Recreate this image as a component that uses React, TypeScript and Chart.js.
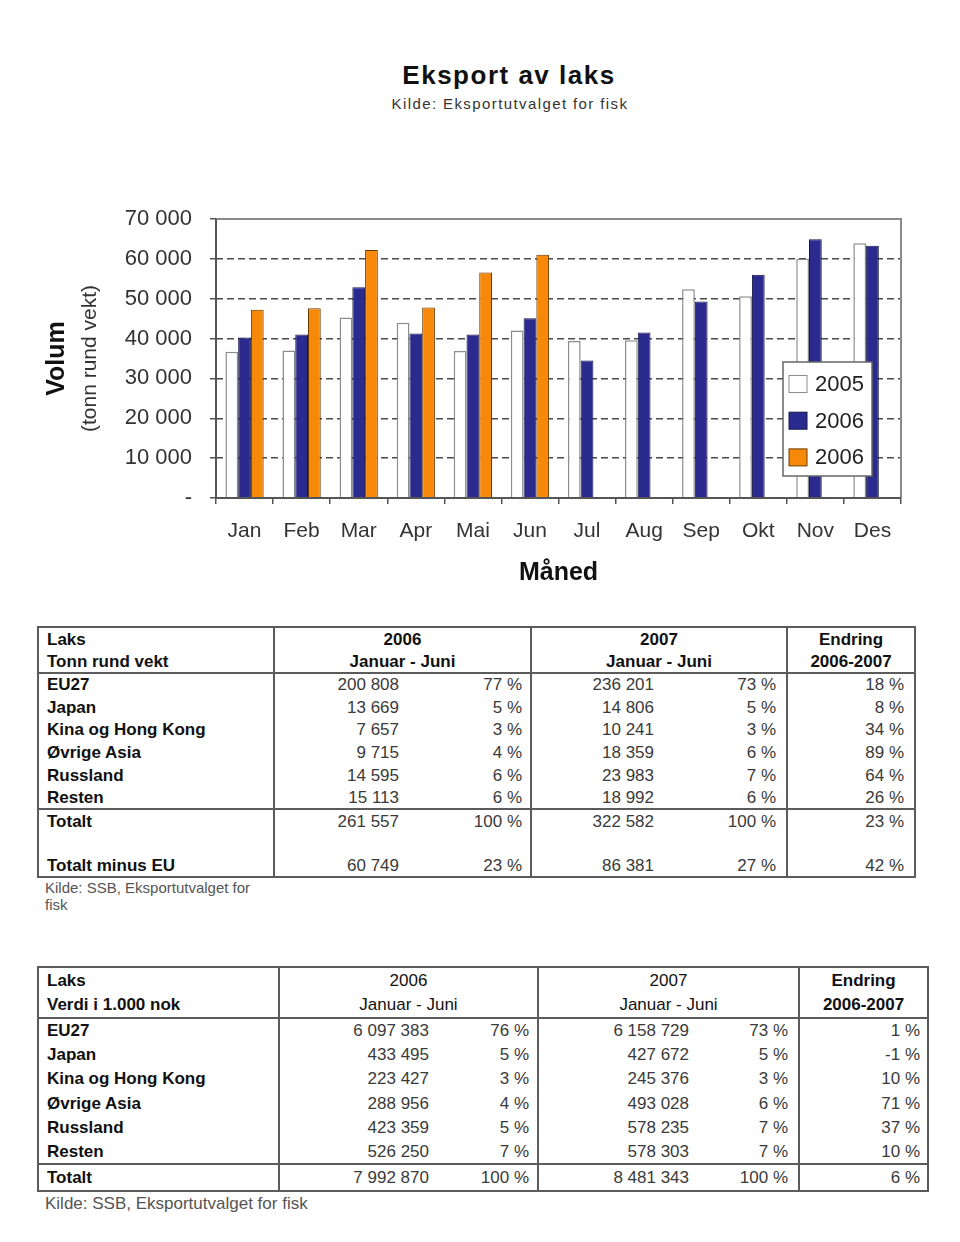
import React, { useEffect, useRef } from "react";
import { Chart, registerables } from "chart.js";

Chart.register(...registerables);

const FONT = '"Liberation Sans", Arial, Helvetica, sans-serif';

// ---- Chart data ----
const months = ["Jan", "Feb", "Mar", "Apr", "Mai", "Jun", "Jul", "Aug", "Sep", "Okt", "Nov", "Des"];
const seriesLabels = ["2005", "2006", "2006"];
const volume2005 = [36700, 37000, 45300, 44000, 36900, 42000, 39400, 39600, 52400, 50600, 60000, 63900];
const volume2006 = [40300, 41000, 52900, 41300, 41000, 45100, 34500, 41500, 49300, 56000, 64900, 63300];
const volume2007 = [47200, 47600, 62200, 47800, 56600, 61000, null, null, null, null, null, null];
const yTicks = [0, 10000, 20000, 30000, 40000, 50000, 60000, 70000];

// ---- Table 1: tonn rund vekt ----
const regions = ["EU27", "Japan", "Kina og Hong Kong", "Øvrige Asia", "Russland", "Resten"];
const tonn2006 = [200808, 13669, 7657, 9715, 14595, 15113];
const tonnPct2006 = [77, 5, 3, 4, 6, 6];
const tonn2007 = [236201, 14806, 10241, 18359, 23983, 18992];
const tonnPct2007 = [73, 5, 3, 6, 7, 6];
const tonnChange = [18, 8, 34, 89, 64, 26];
const tonnTotal = [261557, 100, 322582, 100, 23];
const tonnTotalMinusEU = [60749, 23, 86381, 27, 42];

// ---- Table 2: verdi i 1.000 nok ----
const verdi2006 = [6097383, 433495, 223427, 288956, 423359, 526250];
const verdiPct2006 = [76, 5, 3, 4, 5, 7];
const verdi2007 = [6158729, 427672, 245376, 493028, 578235, 578303];
const verdiPct2007 = [73, 5, 3, 6, 7, 7];
const verdiChange = [1, -1, 10, 71, 37, 10];
const verdiTotal = [7992870, 100, 8481343, 100, 6];

const fmt = (n: number) => String(n).replace(/\B(?=(\d{3})+(?!\d))/g, " ");
const pct = (n: number) => `${n} %`;

const frame = {
  id: "frame",
  afterDatasetsDraw(chart: any) {
    const { ctx, chartArea: a } = chart;
    ctx.save();
    ctx.lineWidth = 2;
    ctx.strokeStyle = "#8a8a8a";
    ctx.beginPath();
    ctx.moveTo(a.left, a.top);
    ctx.lineTo(a.right, a.top);
    ctx.lineTo(a.right, a.bottom);
    ctx.stroke();
    ctx.strokeStyle = "#555";
    ctx.beginPath();
    ctx.moveTo(a.left, a.top);
    ctx.lineTo(a.left, a.bottom);
    ctx.lineTo(a.right, a.bottom);
    ctx.stroke();
    ctx.restore();
  },
};

const axisTitles = {
  id: "axisTitles",
  afterDraw(chart: any) {
    const { ctx, chartArea: a } = chart;
    const cy = (a.top + a.bottom) / 2;
    ctx.save();
    ctx.fillStyle = "#111";
    ctx.textAlign = "center";
    ctx.textBaseline = "middle";
    ctx.font = `bold 25px ${FONT}`;
    ctx.fillText("Måned", (a.left + a.right) / 2, a.bottom + 75);
    ctx.save();
    ctx.translate(57, cy);
    ctx.rotate(-Math.PI / 2);
    ctx.fillText("Volum", 0, 0);
    ctx.restore();
    ctx.save();
    ctx.translate(90, cy);
    ctx.rotate(-Math.PI / 2);
    ctx.fillStyle = "#333";
    ctx.font = `21px ${FONT}`;
    ctx.fillText("(tonn rund vekt)", 0, 0);
    ctx.restore();
    ctx.restore();
  },
};

const legendBox = {
  id: "legendBox",
  afterDraw(chart: any) {
    const { ctx, chartArea: a } = chart;
    const left = a.right - 118;
    const top = a.top + 143;
    const w = 89;
    const h = 114;
    ctx.save();
    ctx.fillStyle = "#fff";
    ctx.fillRect(left, top, w, h);
    ctx.strokeStyle = "#666";
    ctx.lineWidth = 1.5;
    ctx.strokeRect(left, top, w, h);
    ctx.font = `22px ${FONT}`;
    ctx.textBaseline = "middle";
    ctx.textAlign = "left";
    chart.data.datasets.forEach((ds: any, i: number) => {
      const cy = top + 22 + i * 36.7;
      ctx.fillStyle = ds.backgroundColor;
      ctx.fillRect(left + 6, cy - 8.5, 18, 17);
      ctx.strokeStyle = ds.borderColor;
      ctx.lineWidth = 1;
      ctx.strokeRect(left + 6, cy - 8.5, 18, 17);
      ctx.fillStyle = "#222";
      ctx.fillText(ds.label, left + 32, cy + 1);
    });
    ctx.restore();
  },
};

function BarChart() {
  const ref = useRef<HTMLCanvasElement | null>(null);
  useEffect(() => {
    if (!ref.current) return;
    const chart = new Chart(ref.current, {
      type: "bar",
      data: {
        labels: months,
        datasets: [
          { label: seriesLabels[0], data: volume2005, backgroundColor: "#ffffff", borderColor: "#8c8c8c", borderWidth: 1.5 },
          { label: seriesLabels[1], data: volume2006, backgroundColor: "#2b2a8e", borderColor: "#16164a", borderWidth: 1 },
          { label: seriesLabels[2], data: volume2007 as any, backgroundColor: "#f7890a", borderColor: "#6b3a00", borderWidth: 1 },
        ],
      },
      options: {
        responsive: false,
        animation: false,
        devicePixelRatio: 1,
        layout: { padding: { top: 69, right: 59, bottom: 0, left: 0 } },
        datasets: { bar: { categoryPercentage: 0.67, barPercentage: 1.0 } },
        plugins: { legend: { display: false }, title: { display: false }, tooltip: { enabled: false } },
        scales: {
          x: {
            afterFit: (s: any) => { s.height = 112; },
            grid: { display: true, drawOnChartArea: false, drawTicks: true, tickLength: 6, color: "#555", tickColor: "#555", lineWidth: 1.5 },
            border: { display: false },
            ticks: { color: "#333", font: { family: FONT, size: 21 }, padding: 15, maxRotation: 0, autoSkip: false },
          },
          y: {
            min: 0,
            max: 70000,
            afterFit: (s: any) => { s.width = 216; },
            afterBuildTicks: (s: any) => { s.ticks = yTicks.map((v) => ({ value: v })); },
            grid: {
              color: (c: any) => (c.tick && (c.tick.value === 0 || c.tick.value === 70000) ? "rgba(0,0,0,0)" : "#4a4a4a"),
              lineWidth: 1.5,
              tickLength: 6,
              tickColor: "#555",
              tickWidth: 1.5,
              tickBorderDash: [],
            },
            border: { display: false, dash: [7, 4] },
            ticks: {
              color: "#333",
              font: { family: FONT, size: 22 },
              padding: 18,
              callback: (v: any) => (Number(v) === 0 ? "-" : fmt(Number(v))),
            },
          },
        },
      },
      plugins: [frame, axisTitles, legendBox],
    } as any);
    return () => chart.destroy();
  }, []);
  return (
    <canvas
      ref={ref}
      width={960}
      height={460}
      style={{ position: "absolute", left: 0, top: 150, width: 960, height: 460 }}
    />
  );
}

const BORDER = "2px solid #5b5b5b";

type TableProps = {
  left: number;
  top: number;
  widths: number[];
  pads: number[];
  headH: number;
  rowH: number;
  totalH: number[];
  head: string[][];
  headBold: boolean[];
  rows: string[][];
  totals: string[][];
};

function StatTable(p: TableProps) {
  const total = p.widths.reduce((s, w) => s + w, 0);
  const sepCols = [0, 2, 4];
  const cell = (v: string, ci: number, extra: React.CSSProperties = {}) => (
    <td
      key={ci}
      style={{
        padding: 0,
        paddingLeft: ci === 0 ? 8 : 0,
        paddingRight: ci === 0 ? 0 : p.pads[ci],
        textAlign: ci === 0 ? "left" : "right",
        fontWeight: ci === 0 ? 700 : 400,
        color: ci === 0 ? "#111" : "#3a3a3a",
        borderRight: sepCols.includes(ci) ? BORDER : undefined,
        whiteSpace: "nowrap",
        overflow: "hidden",
        ...extra,
      }}
    >
      {v}
    </td>
  );
  const headCell = (v: string, gi: number, li: number) => (
    <td
      key={gi}
      colSpan={gi === 1 || gi === 2 ? 2 : 1}
      style={{
        padding: 0,
        paddingLeft: gi === 0 ? 8 : 0,
        textAlign: gi === 0 ? "left" : "center",
        fontWeight: p.headBold[gi] ? 700 : 400,
        color: "#111",
        borderRight: gi < 3 ? BORDER : undefined,
        borderBottom: li === 1 ? BORDER : undefined,
        whiteSpace: "nowrap",
      }}
    >
      {v}
    </td>
  );
  return (
    <table
      style={{
        position: "absolute",
        left: p.left,
        top: p.top,
        width: total,
        borderCollapse: "collapse",
        tableLayout: "fixed",
        border: BORDER,
        fontFamily: FONT,
        fontSize: 17,
        lineHeight: "19px",
      }}
    >
      <colgroup>
        {p.widths.map((w, i) => (
          <col key={i} style={{ width: w }} />
        ))}
      </colgroup>
      <tbody>
        {[0, 1].map((li) => (
          <tr key={"h" + li} style={{ height: p.headH }}>
            {p.head.map((g, gi) => headCell(g[li], gi, li))}
          </tr>
        ))}
        {p.rows.map((r, ri) => (
          <tr key={"r" + ri} style={{ height: p.rowH }}>
            {r.map((v, ci) => cell(v, ci))}
          </tr>
        ))}
        {p.totals.map((r, ri) => (
          <tr key={"t" + ri} style={{ height: p.totalH[ri] }}>
            {r.map((v, ci) => cell(v, ci, ri === 0 ? { borderTop: BORDER } : {}))}
          </tr>
        ))}
      </tbody>
    </table>
  );
}

const tonnRows = regions.map((r, i) => [
  r,
  fmt(tonn2006[i]),
  pct(tonnPct2006[i]),
  fmt(tonn2007[i]),
  pct(tonnPct2007[i]),
  pct(tonnChange[i]),
]);
const tonnTotals = [
  ["Totalt", fmt(tonnTotal[0]), pct(tonnTotal[1]), fmt(tonnTotal[2]), pct(tonnTotal[3]), pct(tonnTotal[4])],
  ["", "", "", "", "", ""],
  ["Totalt minus EU", fmt(tonnTotalMinusEU[0]), pct(tonnTotalMinusEU[1]), fmt(tonnTotalMinusEU[2]), pct(tonnTotalMinusEU[3]), pct(tonnTotalMinusEU[4])],
];
const verdiRows = regions.map((r, i) => [
  r,
  fmt(verdi2006[i]),
  pct(verdiPct2006[i]),
  fmt(verdi2007[i]),
  pct(verdiPct2007[i]),
  pct(verdiChange[i]),
]);
const verdiTotals = [
  ["Totalt", fmt(verdiTotal[0]), pct(verdiTotal[1]), fmt(verdiTotal[2]), pct(verdiTotal[3]), pct(verdiTotal[4])],
];

export default function App() {
  return (
    <div style={{ position: "absolute", left: 0, top: 0, width: 960, height: 1242, background: "#fff", fontFamily: FONT, overflow: "hidden" }}>
      <div style={{ position: "absolute", left: 0, top: 60, width: 1018, textAlign: "center", fontSize: 26, fontWeight: 700, lineHeight: "30px", letterSpacing: 1.5, color: "#111" }}>
        Eksport av laks
      </div>
      <div style={{ position: "absolute", left: 0, top: 95, width: 1020, textAlign: "center", fontSize: 15, lineHeight: "18px", letterSpacing: 1.4, color: "#333" }}>
        Kilde: Eksportutvalget for fisk
      </div>
      <BarChart />
      <StatTable
        left={37}
        top={626}
        widths={[236, 132, 125, 130, 126, 128]}
        pads={[0, 7, 8, 7, 10, 10]}
        headH={23}
        rowH={22.7}
        totalH={[23, 23, 22]}
        head={[["Laks", "Tonn rund vekt"], ["2006", "Januar - Juni"], ["2007", "Januar - Juni"], ["Endring", "2006-2007"]]}
        headBold={[true, true, true, true]}
        rows={tonnRows}
        totals={tonnTotals}
      />
      <div style={{ position: "absolute", left: 45, top: 879, width: 215, fontSize: 15, lineHeight: "17px", color: "#555" }}>
        Kilde: SSB, Eksportutvalget for fisk
      </div>
      <StatTable
        left={37}
        top={966}
        widths={[241, 157, 102, 158, 103, 129]}
        pads={[0, 7, 8, 7, 10, 7]}
        headH={25.5}
        rowH={24.3}
        totalH={[27]}
        head={[["Laks", "Verdi i 1.000 nok"], ["2006", "Januar - Juni"], ["2007", "Januar - Juni"], ["Endring", "2006-2007"]]}
        headBold={[true, false, false, true]}
        rows={verdiRows}
        totals={verdiTotals}
      />
      <div style={{ position: "absolute", left: 45, top: 1194, fontSize: 17, lineHeight: "20px", color: "#555", whiteSpace: "nowrap" }}>
        Kilde: SSB, Eksportutvalget for fisk
      </div>
    </div>
  );
}
